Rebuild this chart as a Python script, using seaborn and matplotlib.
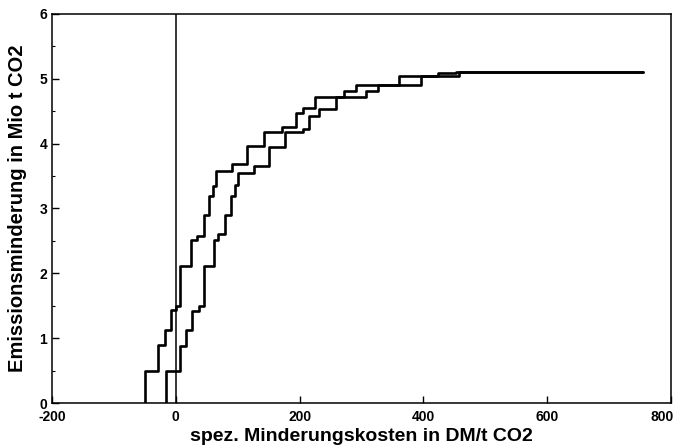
import numpy as np
import pandas as pd
import matplotlib
matplotlib.use("Agg")
import matplotlib.pyplot as plt
import matplotlib.transforms as mtransforms
import seaborn as sns

# step curves (x = cost in DM/t CO2, y = cumulative reduction in Mio t CO2)
cost_a = [-50, -50, -29, -17, -7, 0, 7, 25, 35, 45, 54, 60, 65, 91, 115, 143, 172,
          195, 205, 225, 272, 291, 361, 423, 453, 755]
red_a = [0.0, 0.5, 0.89, 1.13, 1.44, 1.5, 2.12, 2.52, 2.58, 2.9, 3.19, 3.34, 3.57,
         3.68, 3.96, 4.18, 4.26, 4.47, 4.55, 4.72, 4.81, 4.9, 5.05, 5.09, 5.11, 5.11]

cost_b = [-15, -15, 7, 17, 27, 38, 45, 61, 68, 80, 89, 95, 100, 127, 150, 177, 206,
          216, 231, 259, 307, 327, 396, 457, 755]
red_b = [0.0, 0.5, 0.88, 1.12, 1.42, 1.5, 2.12, 2.52, 2.6, 2.9, 3.19, 3.36, 3.54,
         3.65, 3.94, 4.18, 4.23, 4.43, 4.53, 4.72, 4.81, 4.9, 5.05, 5.11, 5.11]

x_ticks = [-200, 0, 200, 400, 600, 800]
y_ticks = [0, 1, 2, 3, 4, 5, 6]

df = pd.concat([
    pd.DataFrame({"kosten": cost_a, "minderung": red_a, "fall": "A"}),
    pd.DataFrame({"kosten": cost_b, "minderung": red_b, "fall": "B"}),
])

sns.set_style("ticks", {"axes.edgecolor": "black", "text.color": "black",
                        "axes.labelcolor": "black", "xtick.color": "black",
                        "ytick.color": "black"})
plt.rcParams['font.family'] = ['Liberation Sans', 'DejaVu Sans']
plt.rcParams['font.weight'] = 'bold'
plt.rcParams['axes.unicode_minus'] = False

fig = plt.figure(figsize=(6.75, 4.48), dpi=100)
ax = fig.add_axes([0.077, 0.1004, 0.917, 0.8686])

for name, grp in df.groupby("fall"):
    sns.lineplot(data=grp, x="kosten", y="minderung", ax=ax, color="black",
                 linewidth=1.9, drawstyle="steps-post", sort=False,
                 estimator=None, legend=False)

ax.axvline(0, color="black", linewidth=1.1)

ax.set_xlim(-200, 800)
ax.set_ylim(0, 6)
ax.set_xticks(x_ticks)
ax.set_yticks(y_ticks)
ax.set_yticks(np.arange(0, 6.01, 0.5), minor=True)
ax.tick_params(which="major", direction="in", length=5, width=1, labelsize=10)
ax.tick_params(axis="x", which="major", pad=5)
ax.tick_params(which="minor", direction="in", length=2.5, width=0.8)
for lab in ax.get_xticklabels() + ax.get_yticklabels():
    lab.set_fontweight("bold")
for s in ax.spines.values():
    s.set_linewidth(1.1)

# keep the last x label inside the figure
last = ax.get_xticklabels()[-1]
last.set_transform(last.get_transform() +
                   mtransforms.ScaledTranslation(-6 / 72, 0, fig.dpi_scale_trans))

ax.set_xlabel("spez. Minderungskosten in DM/t CO2", fontsize=14, fontweight="bold", labelpad=3)
ax.set_ylabel("Emissionsminderung in Mio t CO2", fontsize=14.5, fontweight="bold", labelpad=9)

fig.savefig("out.png", dpi=100)
